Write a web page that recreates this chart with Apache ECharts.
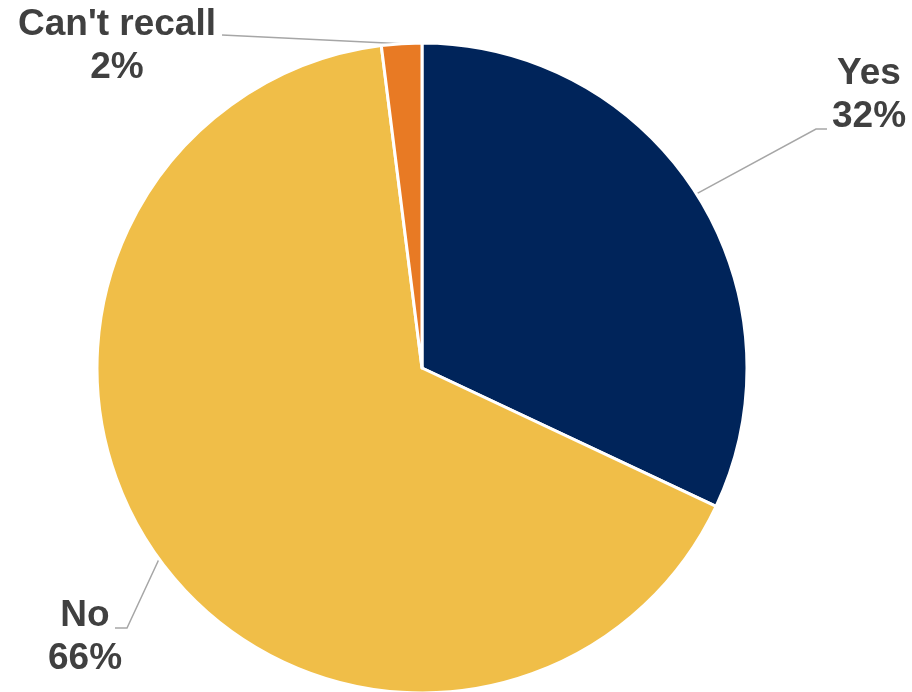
<!DOCTYPE html>
<html>
<head>
<meta charset="utf-8">
<script src="https://cdn.jsdelivr.net/npm/echarts@6/dist/echarts.min.js"></script>
<style>
  html, body { margin: 0; padding: 0; background: #fff; }
  #chart { width: 912px; height: 692px; }
</style>
</head>
<body>
<div id="chart"></div>
<script>
// Survey answers and their shares (percent)
const categories = ["Yes", "No", "Can't recall"];
const values = [32, 66, 2];
const colors = ["#00245A", "#F0BE48", "#E87A24"];

// Where each callout label sits and how its leader line bends
const labelSpots = [
  { x: 869, y: 95,  bend: [816, 129], end: [827, 129] },
  { x: 85,  y: 637, bend: [127, 628], end: [115, 628] },
  { x: 117, y: 46,  bend: [222, 35],  end: [222, 35] }
];

const chart = echarts.init(document.getElementById('chart'));
chart.setOption({
  animation: false,
  series: [{
    type: 'pie',
    center: [422, 368],
    radius: 325,
    startAngle: 90,
    clockwise: true,
    data: categories.map((name, i) => ({
      name: name,
      value: values[i],
      itemStyle: { color: colors[i] }
    })),
    itemStyle: { borderColor: '#ffffff', borderWidth: 3 },
    label: {
      show: true,
      position: 'outside',
      formatter: '{b}\n{c}%',
      color: '#404040',
      fontFamily: 'Liberation Sans, Arial, sans-serif',
      fontWeight: 'bold',
      fontSize: 37,
      lineHeight: 43,
      align: 'center'
    },
    labelLine: {
      show: true,
      length: 40,
      length2: 10,
      lineStyle: { color: '#A6A6A6', width: 1.5 }
    },
    labelLayout: function (params) {
      const spot = labelSpots[params.dataIndex];
      return {
        x: spot.x,
        y: spot.y,
        align: 'center',
        verticalAlign: 'middle',
        labelLinePoints: [params.labelLinePoints[0], spot.bend, spot.end]
      };
    },
    emphasis: { disabled: true }
  }]
});
</script>
</body>
</html>
